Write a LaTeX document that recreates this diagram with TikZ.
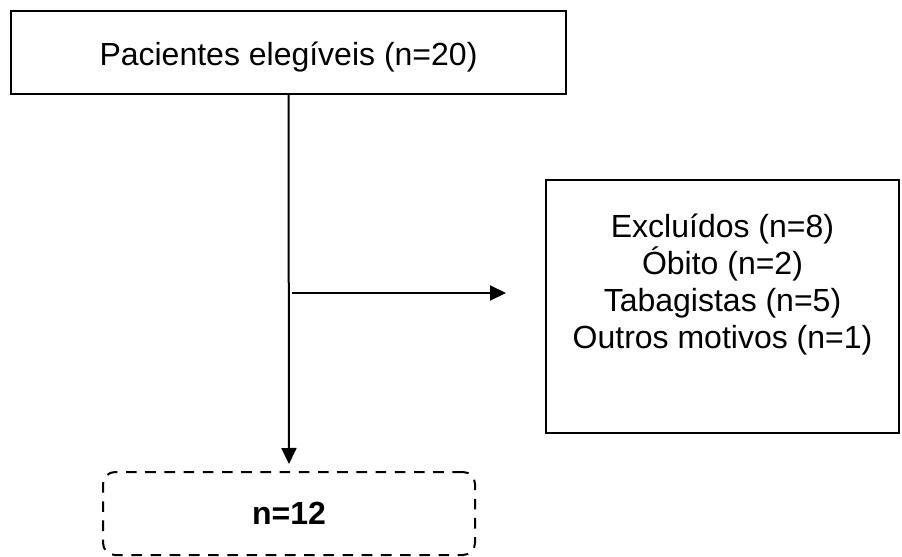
\documentclass[tikz,border=0pt]{standalone}
\usepackage{fontspec}
\setmainfont{Liberation Sans}
\usetikzlibrary{arrows.meta}

\begin{document}
\begin{tikzpicture}[x=0.5pt,y=-0.5pt,
		caixa/.style={draw,line width=1pt,inner sep=0pt,font=\fontsize{16}{18.5}\selectfont},
		seta/.style={line width=1pt,-{Triangle[length=8pt,width=7.5pt]}}]
				\useasboundingbox (0,0) rectangle (902,557);
				\node[caixa,minimum width=277.5pt,minimum height=41.5pt,text height=12.5pt,text depth=0pt] (elegiveis) at (288.5,52.5) {Pacientes elegíveis (n=20)};
				\node[caixa,minimum width=176.5pt,minimum height=126.5pt] (excluidos) at (722.5,306.5) {};
				\node[font=\fontsize{16}{18.5}\selectfont,align=center,anchor=north,inner sep=0pt] (motivos) at (722.5,214) {Excluídos (n=8)\\Óbito (n=2)\\Tabagistas (n=5)\\Outros motivos (n=1)};
				\node[caixa,dash pattern=on 5.3pt off 4.3pt,rounded corners=6pt,minimum width=186pt,minimum height=41.5pt,font=\fontsize{16}{18.5}\selectfont\bfseries] (final) at (289,513.5) {n=12};
				\coordinate (ramo) at (292,293);
				\coordinate (fim) at (506,293);
				\draw[seta,shorten >=3.5pt] (elegiveis.south) -- (final.north);
				\draw[seta] (ramo) -- (fim);
			\end{tikzpicture}
\end{document}
